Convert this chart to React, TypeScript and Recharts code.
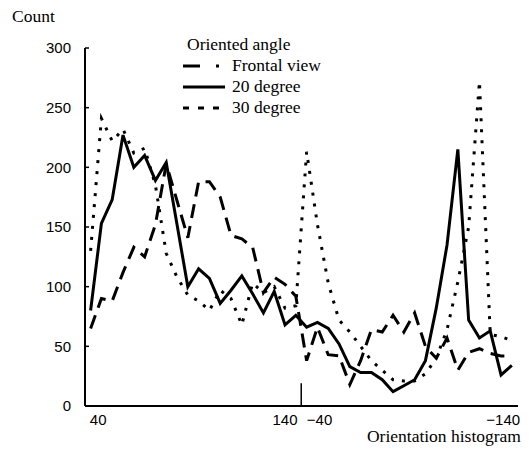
import React from 'react';
import { LineChart, Line, XAxis, YAxis, Legend, ReferenceLine } from 'recharts';

const CHART_W = 532;
const CHART_H = 452;

// histogram bin index (left half 40..140, right half -40..-140)
const bins = [0, 1, 2, 3, 4, 5, 6, 7, 8, 9, 10, 11, 12, 13, 14, 15, 16, 17, 18, 19,
  20, 21, 22, 23, 24, 25, 26, 27, 28, 29, 30, 31, 32, 33, 34, 35, 36, 37, 38, 39];

const frontalView = [65, 90, 88, 112, 133, 125, 152, 203, 172, 141, 188, 188, 175, 143, 140, 133, 95, 108, 102, 92,
  38, 66, 43, 42, 18, 38, 64, 62, 76, 62, 78, 50, 40, 57, 30, 45, 48, 44, 42, 42];

const degree20 = [80, 153, 173, 227, 200, 210, 189, 204, 152, 100, 115, 107, 86, 97, 109, 94, 78, 96, 68, 76,
  66, 70, 65, 52, 33, 28, 28, 22, 12, 17, 22, 38, 82, 135, 215, 72, 57, 63, 26, 34];

const degree30 = [130, 241, 222, 232, 212, 216, 185, 128, 108, 93, 88, 80, 97, 90, 68, 103, 95, 100, 82, 84,
  213, 152, 103, 72, 62, 50, 38, 30, 22, 21, 21, 27, 40, 64, 104, 150, 272, 60, 58, 55];

const xTickPositions = [0.7, 18, 21.2, 38.2];
const xTickLabels = ['40', '140', '\u221240', '\u2212140'];
const halfSeparator = 19.5;
const yTicks = [0, 50, 100, 150, 200, 250, 300];
const seriesNames = ['Frontal view', '20 degree', '30 degree'];
const legendTitle = 'Oriented angle';
const yTitle = 'Count';
const xTitle = 'Orientation histogram';

const data = bins.map((b, i) => ({
  bin: b,
  frontal: frontalView[i],
  d20: degree20[i],
  d30: degree30[i],
}));

const series = [
  { key: 'frontal', name: seriesNames[0], dash: '14 8', legendDash: '17 16 3 20' },
  { key: 'd20', name: seriesNames[1], dash: undefined as string | undefined, legendDash: undefined as string | undefined },
  { key: 'd30', name: seriesNames[2], dash: '3 8', legendDash: '6 9' },
];

const serif = '"Liberation Serif", "Times New Roman", serif';
const sans = '"Liberation Sans", Arial, sans-serif';

const renderLegend = (props: any) => {
  const payload: any[] = props.payload || [];
  const ordered = series
    .map((s) => ({ s, entry: payload.find((p) => p.value === s.name || p.dataKey === s.key) }))
    .filter((o) => o.entry);
  return (
    <div style={{ fontFamily: serif, fontSize: 17.5, lineHeight: '21px', color: '#000' }}>
      <div style={{ paddingLeft: 4, whiteSpace: 'nowrap' }}>{legendTitle}</div>
      {ordered.map(({ s, entry }) => (
        <div key={s.key} style={{ display: 'flex', alignItems: 'center', height: 21, whiteSpace: 'nowrap' }}>
          <svg width={44} height={21} style={{ display: 'block' }}>
            <line x1={0} y1={11} x2={42} y2={11} stroke="#000" strokeWidth={3} strokeDasharray={s.legendDash} />
          </svg>
          <span style={{ marginLeft: 5 }}>{entry.value}</span>
        </div>
      ))}
    </div>
  );
};

const renderYTitle = (props: any) => {
  const vb = props.viewBox || { x: 0, y: 0 };
  return (
    <text x={vb.x} y={vb.y - 26} fontFamily={serif} fontSize={17.5} fill="#000" textAnchor="start">
      {yTitle}
    </text>
  );
};

const renderXTitle = (props: any) => {
  const vb = props.viewBox || { x: 0, y: 0, width: 0 };
  return (
    <text x={vb.x + vb.width + 3} y={vb.y + 36} fontFamily={serif} fontSize={17.5} fill="#000" textAnchor="end">
      {xTitle}
    </text>
  );
};

export default function App() {
  return (
    <div style={{ width: CHART_W, height: CHART_H, margin: '-8px 0 0 -8px' }}>
      <LineChart width={CHART_W} height={CHART_H} data={data} margin={{ top: 48, right: 14, bottom: 16, left: 12 }}>
        <XAxis
          type="number"
          dataKey="bin"
          domain={[-0.52, 39.57]}
          allowDataOverflow
          ticks={xTickPositions}
          interval={0}
          tickFormatter={(v: number) => xTickLabels[xTickPositions.indexOf(v)] ?? ''}
          tickLine={false}
          axisLine={{ stroke: '#000', strokeWidth: 2 }}
          tick={{ fill: '#000', fontFamily: sans, fontSize: 15 }}
          height={30}
          label={renderXTitle}
        />
        <YAxis
          type="number"
          domain={[0, 300]}
          ticks={yTicks}
          interval={0}
          tickSize={-4}
          tickMargin={18}
          axisLine={{ stroke: '#000', strokeWidth: 2 }}
          tickLine={{ stroke: '#000', strokeWidth: 1.5 }}
          tick={{ fill: '#000', fontFamily: sans, fontSize: 15 }}
          width={73}
          label={renderYTitle}
        />
        <ReferenceLine
          segment={[{ x: halfSeparator, y: 0 }, { x: halfSeparator, y: 19 }]}
          stroke="#000"
          strokeWidth={1.5}
        />
        {series.map((s) => (
          <Line
            key={s.key}
            type="linear"
            dataKey={s.key}
            name={s.name}
            stroke="#000"
            strokeWidth={3}
            strokeDasharray={s.dash}
            dot={false}
            activeDot={false}
            isAnimationActive={false}
          />
        ))}
        <Legend
          layout="vertical"
          align="center"
          verticalAlign="middle"
          content={renderLegend}
          wrapperStyle={{ left: 183, top: 33.5, width: 200 }}
        />
      </LineChart>
    </div>
  );
}
